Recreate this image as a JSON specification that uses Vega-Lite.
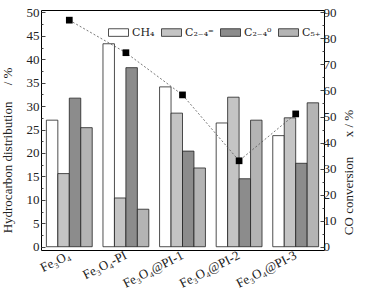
{
  "$schema": "https://vega.github.io/schema/vega-lite/v6.json",
  "width": 283,
  "height": 240,
  "autosize": "none",
  "padding": {"left": 41, "top": 10, "right": 43, "bottom": 47},
  "config": {
    "font": "Liberation Serif",
    "view": {"stroke": "black", "strokeWidth": 1},
    "axis": {"labelFont": "Liberation Serif, DejaVu Serif", "titleFont": "Liberation Serif", "labelColor": "#222", "titleColor": "#222", "domain": false, "grid": false, "tickColor": "#444", "titleFontWeight": "normal"}
  },
  "datasets": {
    "hc": [
      {"sample": "Fe₃O₄", "series": "CH₄", "value": 27.0},
      {"sample": "Fe₃O₄", "series": "C₂₋₄⁼", "value": 15.6},
      {"sample": "Fe₃O₄", "series": "C₂₋₄⁰", "value": 31.7},
      {"sample": "Fe₃O₄", "series": "C₅₊", "value": 25.4},
      {"sample": "Fe₃O₄-PI", "series": "CH₄", "value": 43.3},
      {"sample": "Fe₃O₄-PI", "series": "C₂₋₄⁼", "value": 10.4},
      {"sample": "Fe₃O₄-PI", "series": "C₂₋₄⁰", "value": 38.2},
      {"sample": "Fe₃O₄-PI", "series": "C₅₊", "value": 8.0},
      {"sample": "Fe₃O₄@PI-1", "series": "CH₄", "value": 34.1},
      {"sample": "Fe₃O₄@PI-1", "series": "C₂₋₄⁼", "value": 28.5},
      {"sample": "Fe₃O₄@PI-1", "series": "C₂₋₄⁰", "value": 20.4},
      {"sample": "Fe₃O₄@PI-1", "series": "C₅₊", "value": 16.8},
      {"sample": "Fe₃O₄@PI-2", "series": "CH₄", "value": 26.4},
      {"sample": "Fe₃O₄@PI-2", "series": "C₂₋₄⁼", "value": 31.9},
      {"sample": "Fe₃O₄@PI-2", "series": "C₂₋₄⁰", "value": 14.5},
      {"sample": "Fe₃O₄@PI-2", "series": "C₅₊", "value": 27.0},
      {"sample": "Fe₃O₄@PI-3", "series": "CH₄", "value": 23.7},
      {"sample": "Fe₃O₄@PI-3", "series": "C₂₋₄⁼", "value": 27.5},
      {"sample": "Fe₃O₄@PI-3", "series": "C₂₋₄⁰", "value": 17.8},
      {"sample": "Fe₃O₄@PI-3", "series": "C₅₊", "value": 30.7}
    ],
    "conv": [
      {"sample": "Fe₃O₄", "conversion": 87.0},
      {"sample": "Fe₃O₄-PI", "conversion": 74.5},
      {"sample": "Fe₃O₄@PI-1", "conversion": 58.3},
      {"sample": "Fe₃O₄@PI-2", "conversion": 33.0},
      {"sample": "Fe₃O₄@PI-3", "conversion": 51.0}
    ]
  },
  "encoding": {
    "x": {
      "field": "sample", "type": "nominal", "sort": null,
      "scale": {"paddingInner": 0.19, "paddingOuter": 0.095},
      "axis": {"title": null, "labelAngle": -27, "labelAlign": "right", "labelBaseline": "middle", "labelFontSize": 13, "labelDx": 21, "labelDy": -2, "labelPadding": 4, "ticks": false}
    }
  },
  "layer": [
    {
      "data": {"name": "hc"},
      "mark": {"type": "bar", "stroke": "#222", "strokeWidth": 0.8},
      "encoding": {
        "xOffset": {"field": "series", "type": "nominal", "sort": null, "scale": {"paddingInner": 0, "paddingOuter": 0}},
        "y": {
          "field": "value", "type": "quantitative",
          "scale": {"domain": [-0.7, 50.5], "nice": false, "zero": false},
          "axis": {
            "title": "Hydrocarbon distribution\u00a0\u00a0\u00a0\u00a0\u00a0/ %",
            "titleFontSize": 13, "titleY": 140, "titleX": -27,
            "values": [0,2.5,5,7.5,10,12.5,15,17.5,20,22.5,25,27.5,30,32.5,35,37.5,40,42.5,45,47.5,50],
            "labelExpr": "datum.value % 5 === 0 ? datum.label : ''",
            "labelFontSize": 13, "labelPadding": 6,
            "tickSize": {"condition": {"test": "datum.value % 5 === 0", "value": -4}, "value": -2}
          }
        },
        "color": {
          "field": "series", "type": "nominal", "sort": null,
          "scale": {"domain": ["CH₄", "C₂₋₄⁼", "C₂₋₄⁰", "C₅₊"], "range": ["#ffffff", "#c4c4c4", "#8c8c8c", "#b4b4b4"]},
          "legend": {
            "title": null, "orient": "none", "direction": "horizontal", "columns": 4,
            "legendX": 67, "legendY": 12,
            "symbolType": "M-1,-0.38H1V0.38H-1Z", "symbolSize": 400,
            "symbolStrokeColor": "#222", "symbolStrokeWidth": 0.8,
            "labelFont": "DejaVu Serif", "labelFontSize": 11, "labelColor": "#222",
            "labelOffset": 3, "columnPadding": 4
          }
        }
      }
    },
    {
      "data": {"name": "conv"},
      "mark": {"type": "line", "color": "#555", "strokeWidth": 0.8, "strokeDash": [2, 2]},
      "encoding": {
        "y": {"field": "conversion", "type": "quantitative", "scale": {"domain": [-1.26, 90.9], "nice": false, "zero": false}, "axis": null}
      }
    },
    {
      "data": {"name": "conv"},
      "mark": {"type": "point", "shape": "square", "filled": true, "color": "#000", "size": 45, "opacity": 1},
      "encoding": {
        "y": {
          "field": "conversion", "type": "quantitative",
          "scale": {"domain": [-1.26, 90.9], "nice": false, "zero": false},
          "axis": {
            "orient": "right",
            "title": "CO conversion\u00a0\u00a0\u00a0\u00a0\u00a0\u00a0x / %", "titleAngle": 270,
            "titleFontSize": 13, "titleY": 162, "titleX": 31,
            "values": [0,5,10,15,20,25,30,35,40,45,50,55,60,65,70,75,80,85,90],
            "labelExpr": "datum.value % 10 === 0 ? datum.label : ''",
            "labelFontSize": 13, "labelPadding": 3,
            "tickSize": {"condition": {"test": "datum.value % 10 === 0", "value": -4}, "value": -2}
          }
        }
      }
    }
  ],
  "resolve": {"scale": {"y": "independent"}, "axis": {"y": "independent"}}
}
